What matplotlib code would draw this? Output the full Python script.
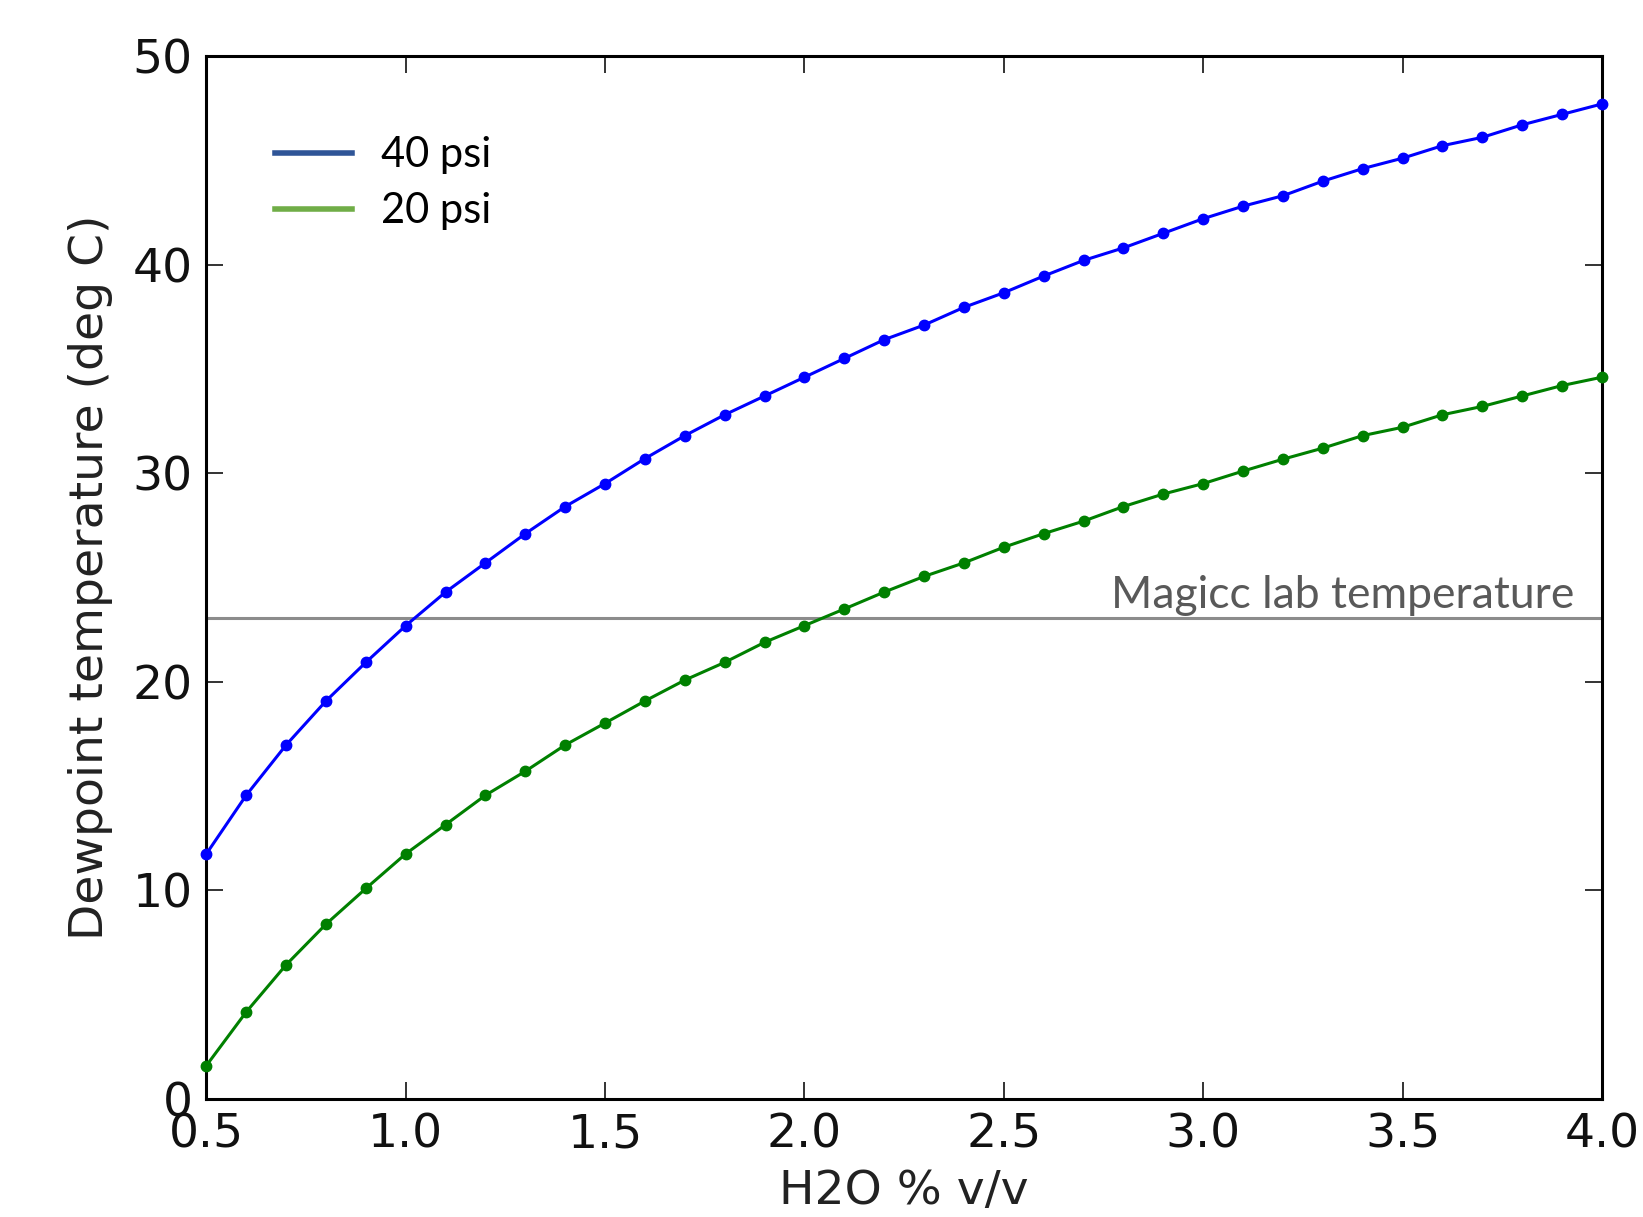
import matplotlib
matplotlib.use('Agg')
import matplotlib.pyplot as plt
from matplotlib.lines import Line2D

# H2O % v/v
h2o = [0.5, 0.6, 0.7, 0.8, 0.9, 1.0, 1.1, 1.2, 1.3, 1.4, 1.5, 1.6,
       1.7, 1.8, 1.9, 2.0, 2.1, 2.2, 2.3, 2.4, 2.5, 2.6, 2.7, 2.8,
       2.9, 3.0, 3.1, 3.2, 3.3, 3.4, 3.5, 3.6, 3.7, 3.8, 3.9, 4.0]

# dewpoint at 40 psi (deg C)
dew_40 = [11.75, 14.56, 16.97, 19.08, 20.93, 22.69, 24.3, 25.7, 27.1, 28.4, 29.5, 30.7,
          31.8, 32.8, 33.7, 34.6, 35.5, 36.4, 37.1, 37.95, 38.65, 39.45, 40.2, 40.8,
          41.5, 42.2, 42.8, 43.3, 44.0, 44.6, 45.1, 45.7, 46.1, 46.7, 47.2, 47.7]

# dewpoint at 20 psi (deg C)
dew_20 = [1.6, 4.17, 6.43, 8.38, 10.09, 11.75, 13.15, 14.56, 15.71, 16.97, 18.02, 19.08,
          20.08, 20.93, 21.89, 22.69, 23.49, 24.3, 25.05, 25.7, 26.45, 27.1, 27.7, 28.4,
          29.0, 29.5, 30.1, 30.67, 31.2, 31.8, 32.2, 32.8, 33.2, 33.7, 34.2, 34.6]

lab_temp = 23.05
series_labels = ['40 psi', '20 psi']

fig = plt.figure(figsize=(16.43, 12.17), dpi=100)
ax = fig.add_axes([0.1256, 0.097, 0.8494, 0.857])

ax.plot(h2o, dew_40, '-o', color='#0000ff', lw=2.2, ms=7.5, clip_on=False, zorder=3)
ax.plot(h2o, dew_20, '-o', color='#008000', lw=2.2, ms=7.5, clip_on=False, zorder=3)

ax.axhline(lab_temp, color='#8c8c8c', lw=2.2, zorder=2)
ax.text(3.93, lab_temp + 0.5, 'Magicc lab temperature', ha='right', va='baseline',
        family='Lato', fontsize=32, color='#595959')

ax.set_xlim(0.5, 4.0)
ax.set_ylim(0, 50)
ax.set_xticks([0.5, 1.0, 1.5, 2.0, 2.5, 3.0, 3.5, 4.0])
ax.set_yticks([0, 10, 20, 30, 40, 50])
ax.tick_params(direction='in', length=12, width=1.2, top=True, right=True,
               labelsize=34, pad=10, colors='#111111')
for s in ax.spines.values():
    s.set_linewidth(2.2)

ax.set_xlabel('H2O % v/v', fontsize=34, labelpad=8, color='#222222')
ax.set_ylabel('Dewpoint temperature (deg C)', fontsize=34, labelpad=14, color='#222222')

handles = [Line2D([], [], color='#2f5597', lw=4),
           Line2D([], [], color='#70ad47', lw=4)]
ax.legend(handles, series_labels, loc='upper left', bbox_to_anchor=(0.049, 0.923),
          frameon=False, prop={'family': 'Lato', 'size': 30}, handlelength=1.85,
          handletextpad=0.7, labelspacing=0.43, borderpad=0, borderaxespad=0)

fig.savefig('out.png', dpi=100)
